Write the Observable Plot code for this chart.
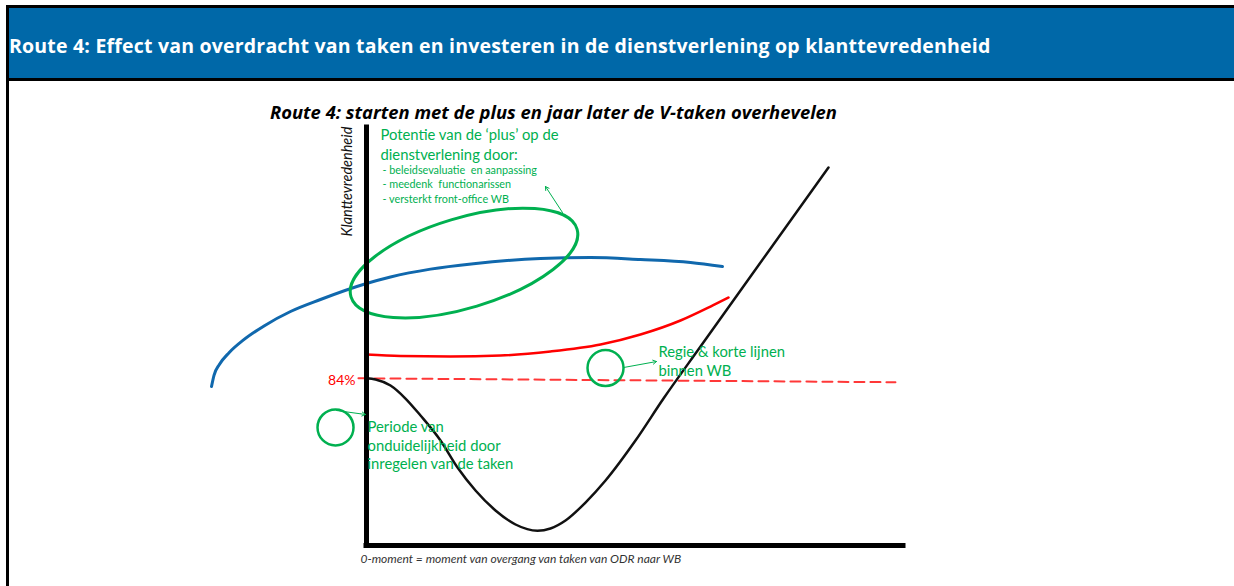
<!DOCTYPE html>
<html>
<head>
<meta charset="utf-8">
<script src="https://cdn.jsdelivr.net/npm/d3@7"></script>
<script src="https://cdn.jsdelivr.net/npm/@observablehq/plot@0.6"></script>
<style>
  html, body { margin: 0; padding: 0; background: #fff; }
  body { width: 1234px; height: 586px; position: relative; overflow: hidden; font-family: Lato, "Open Sans", sans-serif; }
  #hdr { position: absolute; left: 6px; top: 5px; width: 1228px; height: 70px; background: #0068a8;
         border-top: 3px solid #000; border-bottom: 3px solid #000; }
  #hdr span { position: absolute; left: 3px; top: calc(50% + 2px); transform: translateY(-50%); color: #fff;
              font-family: "Open Sans", sans-serif; font-weight: 700; font-size: 19.5px; letter-spacing: 0.2px; white-space: nowrap; }
  #lborder { position: absolute; left: 6px; top: 5px; width: 3px; height: 590px; background: #000; z-index: 5; }
  #chart { position: absolute; left: 0; top: 81px; }
</style>
</head>
<body>
<div id="hdr"><span>Route 4: Effect van overdracht van taken en investeren in de dienstverlening op klanttevredenheid</span></div>
<div id="chart"></div>
<div id="lborder"></div>
<script>
// ---- data (x: time units after 0-moment, y: klanttevredenheid %) ----
const chartTitle = "Route 4: starten met de plus en jaar later de V-taken overhevelen";
const yLabel = "Klanttevredenheid";
const caption = "0-moment = moment van overgang van taken van ODR naar WB";
const baselineLabel = "84%";

const blackCurve = [
  [0, 84], [1.68, 83.75], [4.47, 82.53], [7.26, 79.89], [10.06, 76.43], [13.78, 71.35],
  [16.95, 65.86], [20.3, 61.18], [24.02, 57.12], [27.75, 54.27], [31.84, 53.0],
  [34.26, 53.46], [37.06, 55.08], [40.78, 58.74], [44.51, 63.22], [50.09, 71.35], [55.31, 79.89],
  [62.2, 90.46], [71.51, 104.7], [86.03, 126.86]
];
const blueCurve = [
  [-28.86, 82.33], [-28.4, 84.6], [-27.4, 86.8], [-25.6, 89.2], [-22.9, 91.8],
  [-19.0, 94.7], [-14.15, 97.58], [-8.57, 100.02], [0, 103.27], [4.47, 104.6],
  [11.92, 106.2], [19.93, 107.3], [32.4, 108.36], [41.71, 108.56], [51.02, 108.15],
  [60.34, 107.54], [66.29, 106.73]
];
const redCurve = [
  [0, 88.84], [6.33, 88.53], [15.64, 88.43], [24.95, 88.63], [34.26, 89.45],
  [43.58, 90.87], [51.02, 92.9], [58.47, 95.75], [64.06, 98.6], [67.41, 100.43]
];
const dashedLine = [[-1.5, 84], [98.5, 83.2]];
const bigEllipse = [[18.16, 107.44]];
const smallCircles = [[-5.77, 74.0], [44.51, 86.09]];
const arrows = [
  {x1: 36.5, y1: 117.71, x2: 33.33, y2: 123.0},
  {x1: -5.59, y1: 77.45, x2: -0.19, y2: 76.64},
  {x1: 47.86, y1: 86.19, x2: 54.0, y2: 87.41}
];
const bigLabels = [
  {text: "Potentie van de \u2018plus\u2019 op de", x: 2.61, y: 133.37},
  {text: "dienstverlening door:", x: 2.61, y: 129.4},
  {text: "Periode van", x: 0.19, y: 73.99},
  {text: "onduidelijkheid door", x: 0.19, y: 70.23},
  {text: "inregelen van de taken", x: 0.19, y: 66.47},
  {text: "Regie & korte lijnen", x: 54.38, y: 89.24},
  {text: "binnen WB", x: 54.38, y: 85.38}
];
const smallLabels = [
  {text: "- beleidsevaluatie  en aanpassing", x: 2.98, y: 126.25},
  {text: "- meedenk  functionarissen", x: 2.98, y: 123.4},
  {text: "- versterkt front-office WB", x: 2.98, y: 120.45}
];
const axisX = [0];   // y-axis at the 0-moment
const axisY = [50];  // x-axis baseline

// ---- styles ----
const GREEN = "#00b050";
const RED = "#ff0000";
const BLUE = "#1068ad";

// rotated ellipse symbol (aspect and tilt are styling)
const ELL_RATIO = 45 / 118, ELL_ANGLE = -16.7 * Math.PI / 180;
const ellipseSymbol = {
  draw(ctx, size) {
    const a = Math.sqrt(size / Math.PI), b = a * ELL_RATIO, k = 0.5522847;
    const c = Math.cos(ELL_ANGLE), s = Math.sin(ELL_ANGLE);
    const P = (px, py) => [px * c - py * s, px * s + py * c];
    const pts = [
      [a, 0], [a, b * k], [a * k, b], [0, b], [-a * k, b], [-a, b * k], [-a, 0],
      [-a, -b * k], [-a * k, -b], [0, -b], [a * k, -b], [a, -b * k], [a, 0]
    ].map(p => P(p[0], p[1]));
    ctx.moveTo(...pts[0]);
    for (let i = 1; i < pts.length; i += 3) ctx.bezierCurveTo(...pts[i], ...pts[i + 1], ...pts[i + 2]);
    ctx.closePath();
  }
};

const plot = Plot.plot({
  width: 1234, height: 505,
  marginLeft: 366, marginRight: 331, marginTop: 46, marginBottom: 41,
  x: {domain: [0, 100], axis: null},
  y: {domain: [50, 135], axis: null},
  style: {fontFamily: "Lato, 'Open Sans', sans-serif", overflow: "visible", background: "transparent"},
  marks: [
    Plot.line(blueCurve, {x: d => d[0], y: d => d[1], stroke: BLUE, strokeWidth: 3, curve: "monotone-x"}),
    Plot.dot(bigEllipse, {x: d => d[0], y: d => d[1], r: 118, symbol: ellipseSymbol, stroke: GREEN, strokeWidth: 3, fill: "none"}),
    Plot.line(redCurve, {x: d => d[0], y: d => d[1], stroke: RED, strokeWidth: 2.5, curve: "monotone-x"}),
    Plot.line(dashedLine, {x: d => d[0], y: d => d[1], stroke: "#ff3838", strokeWidth: 2, strokeDasharray: "10,6"}),
    Plot.line(blackCurve, {x: d => d[0], y: d => d[1], stroke: "#111", strokeWidth: 2.5, curve: "monotone-x"}),
    Plot.ruleX(axisX, {y1: 50, y2: 135, stroke: "#000", strokeWidth: 5, strokeLinecap: "square"}),
    Plot.ruleY(axisY, {x1: 0, x2: 100, stroke: "#000", strokeWidth: 5, strokeLinecap: "square"}),
    Plot.dot(smallCircles, {x: d => d[0], y: d => d[1], r: 18, stroke: GREEN, strokeWidth: 2.5, fill: "none"}),
    Plot.arrow(arrows, {x1: "x1", y1: "y1", x2: "x2", y2: "y2", stroke: GREEN, strokeWidth: 1, headLength: 6}),
    Plot.text(bigLabels, {x: "x", y: "y", text: "text", textAnchor: "start", fill: GREEN, fontSize: 14.8}),
    Plot.text(smallLabels, {x: "x", y: "y", text: "text", textAnchor: "start", fill: GREEN, fontSize: 10.8}),
    Plot.text([baselineLabel], {x: -2.05, y: 83.55, text: d => d, textAnchor: "end", fill: RED, fontSize: 14}),
    Plot.text([chartTitle], {x: 34.82, y: 137.84, text: d => d, fill: "#000", fontSize: 18.4, fontWeight: "bold", fontStyle: "italic", fontFamily: "'Open Sans', sans-serif"}),
    Plot.text([yLabel], {x: -3.54, y: 124.0, text: d => d, rotate: -90, fill: "#111", fontSize: 14.5, fontStyle: "italic"}),
    Plot.text([caption], {x: -1.12, y: 47.15, text: d => d, textAnchor: "start", fill: "#333", fontSize: 12, fontStyle: "italic"})
  ]
});
document.getElementById("chart").appendChild(plot);
</script>
</body>
</html>
